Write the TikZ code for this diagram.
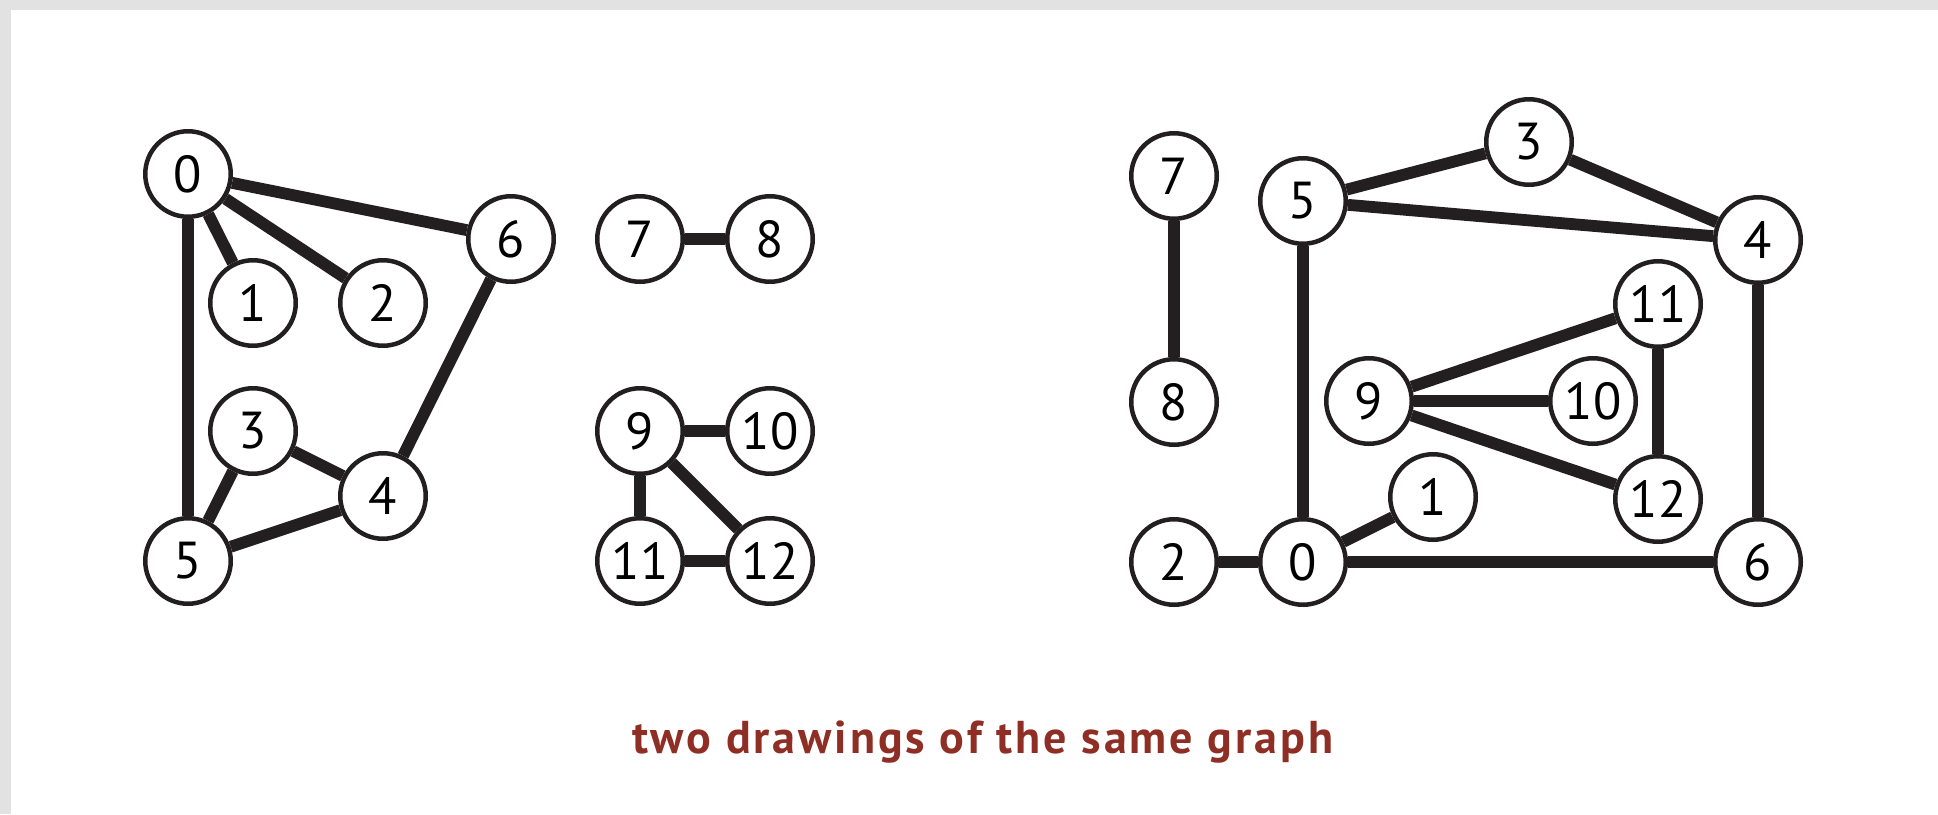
\documentclass[tikz,border=0pt]{standalone}
\usepackage{fontspec}
\setmainfont{PT Sans}
\usepackage{tikz}
\definecolor{inkline}{RGB}{35,31,32}
\definecolor{caprust}{RGB}{142,46,36}
\definecolor{framegray}{RGB}{226,226,226}

\begin{document}
\begin{tikzpicture}[x=0.5pt,y=-0.5pt,
    vtx/.style={circle,draw=inkline,fill=white,line width=2.25pt,minimum size=42.75pt,inner sep=0pt,font=\fontsize{26}{26}\selectfont},
    edge/.style={draw=inkline,line width=5.9pt}]
                \useasboundingbox (0,0) rectangle (1938,814);
                \fill[framegray] (0,0) rectangle (1938,814);
                \fill[white] (11,10) rectangle (1938,814);
                \node[vtx] (l0) at (188,174) {0};
                \node[vtx] (l1) at (253,303) {1};
                \node[vtx] (l2) at (383,303) {2};
                \node[vtx] (l3) at (253,431) {3};
                \node[vtx] (l4) at (383,496) {4};
                \node[vtx] (l5) at (188,561) {5};
                \node[vtx] (l6) at (511,239) {6};
                \node[vtx] (l7) at (640,239) {7};
                \node[vtx] (l8) at (770,239) {8};
                \node[vtx] (l9) at (640,431) {9};
                \node[vtx] (l10) at (770,431) {10};
                \node[vtx] (l11) at (640,561) {11};
                \node[vtx] (l12) at (770,561) {12};
                \draw[edge] (l0) -- (l6) (l0) -- (l1) (l0) -- (l2) (l0) -- (l5) (l6) -- (l4) (l3) -- (l4) (l3) -- (l5) (l5) -- (l4);
                \draw[edge] (l7) -- (l8) (l9) -- (l10) (l9) -- (l11) (l9) -- (l12) (l11) -- (l12);
                \node[vtx] (r7) at (1174,176) {7};
                \node[vtx] (r8) at (1174,402) {8};
                \node[vtx] (r5) at (1303,201) {5};
                \node[vtx] (r3) at (1529,142) {3};
                \node[vtx] (r4) at (1758,240) {4};
                \node[vtx] (r11) at (1658,304) {11};
                \node[vtx] (r9) at (1369,401) {9};
                \node[vtx] (r10) at (1593,401) {10};
                \node[vtx] (r12) at (1658,499) {12};
                \node[vtx] (r1) at (1433,497) {1};
                \node[vtx] (r2) at (1174,562) {2};
                \node[vtx] (r0) at (1303,562) {0};
                \node[vtx] (r6) at (1758,562) {6};
                \draw[edge] (r7) -- (r8) (r5) -- (r3) (r3) -- (r4) (r5) -- (r4) (r5) -- (r0) (r4) -- (r6);
                \draw[edge] (r9) -- (r11) (r9) -- (r10) (r9) -- (r12) (r11) -- (r12) (r0) -- (r1) (r2) -- (r0) (r0) -- (r6);
                \node[anchor=base,text=caprust,font=\bfseries\fontsize{23}{23}\selectfont\addfontfeature{LetterSpace=6.5}] (caption) at (983,753) {two drawings of the same graph};
            \end{tikzpicture}
\end{document}
